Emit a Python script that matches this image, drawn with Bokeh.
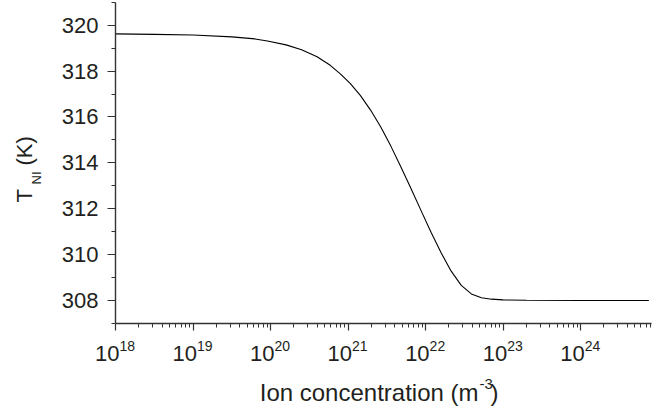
from bokeh.plotting import figure
from bokeh.models import (FixedTicker, LabelSet, ColumnDataSource,
                          CustomJSTickFormatter, Range1d)
from bokeh.core.properties import value
from bokeh.embed import file_html
from bokeh.resources import INLINE
import math

# ---- data ----
log_conc = [18.00, 18.50, 19.00, 19.50, 19.80, 19.96, 20.20, 20.40, 20.60, 20.77,
            20.90, 21.03, 21.16, 21.29, 21.42, 21.55, 21.68, 21.81, 21.94, 22.07,
            22.20, 22.33, 22.46, 22.59, 22.72, 22.85, 23.00, 23.30, 24.00, 24.88]
t_ni = [319.62, 319.60, 319.57, 319.49, 319.40, 319.31, 319.14, 318.93, 318.62, 318.25,
        317.88, 317.45, 316.93, 316.30, 315.57, 314.74, 313.83, 312.89, 311.93, 310.98,
        310.08, 309.28, 308.66, 308.29, 308.12, 308.06, 308.03, 308.01, 308.00, 308.00]
x_exponents = [18, 19, 20, 21, 22, 23, 24]
y_ticks = [308, 310, 312, 314, 316, 318, 320]
x_min, x_max = 1e18, 8.2e24
y_min, y_max = 307, 321

# ---- layout (pixels) ----
W, H = 657, 410
AX_L, AX_R, AX_T, AX_B = 115, 651, 1.7, 323

FONT = "Liberation Sans"
TXT = "#231f20"
AX = "#333333"

conc = [10.0 ** v for v in log_conc]

# the drawing frame covers the whole canvas; the axes are pinned at the data edges
decade_px = (AX_R - AX_L) / (math.log10(x_max) - math.log10(x_min))
x_lo = 10 ** (math.log10(x_min) - AX_L / decade_px)
x_hi = 10 ** (math.log10(x_max) + (W - AX_R) / decade_px)
unit_px = (AX_B - AX_T) / (y_max - y_min)
y_lo = y_min - (H - AX_B) / unit_px
y_hi = y_max + AX_T / unit_px

p = figure(width=W, height=H, x_axis_type="log",
           x_range=Range1d(x_lo, x_hi), y_range=Range1d(y_lo, y_hi),
           output_backend="svg", toolbar_location=None, min_border=0)
p.outline_line_color = None
p.xgrid.grid_line_color = None
p.ygrid.grid_line_color = None
p.background_fill_color = "white"
p.border_fill_color = "white"

p.line(conc, t_ni, line_color="black", line_width=1.1)

# x axis
major_x = [10.0 ** e for e in x_exponents]
minor_x = [m * 10.0 ** e for e in x_exponents for m in range(2, 10) if m * 10.0 ** e <= x_max]
p.xaxis.ticker = FixedTicker(ticks=major_x, minor_ticks=minor_x)
p.xaxis.formatter = CustomJSTickFormatter(code="return ''")
p.xaxis.fixed_location = y_min
p.xaxis.bounds = (x_min, x_max)
p.xaxis.major_tick_in = 0
p.xaxis.major_tick_out = 7
p.xaxis.minor_tick_in = 0
p.xaxis.minor_tick_out = 4

# y axis
p.yaxis.ticker = FixedTicker(ticks=y_ticks, minor_ticks=[t + 1 for t in y_ticks] + [y_min])
p.yaxis.fixed_location = x_min
p.yaxis.bounds = (y_min, y_max)
p.yaxis.major_tick_in = 0
p.yaxis.major_tick_out = 8
p.yaxis.minor_tick_in = 0
p.yaxis.minor_tick_out = 4
p.yaxis.major_label_text_font = FONT
p.yaxis.major_label_text_font_size = "22px"
p.yaxis.major_label_text_color = TXT
p.yaxis.major_label_standoff = 9

for ax in (p.xaxis, p.yaxis):
    ax.axis_line_color = AX
    ax.axis_line_width = 1.4
    ax.major_tick_line_color = AX
    ax.minor_tick_line_color = AX
    ax.major_tick_line_width = 1.2
    ax.minor_tick_line_width = 1.0


def labels(xs, ys, texts, xo, yo, align, size, angle=0.0):
    src = ColumnDataSource(dict(x=xs, y=ys, text=texts))
    p.add_layout(LabelSet(x="x", y="y", text="text", source=src, x_offset=xo, y_offset=yo,
                          angle=angle, text_align=align, text_baseline="alphabetic",
                          text_font=value(FONT), text_font_size=value(size),
                          text_color=TXT))


# x tick labels: 10 with a superscript exponent
n = len(major_x)
labels(major_x, [y_min] * n, ["10"] * n, 4, -37, "right", "22px")
labels(major_x, [y_min] * n, [str(e) for e in x_exponents], 4, -27, "left", "14px")

# x axis label
labels([x_min], [y_min], ["Ion concentration (m"], 363, -77, "right", "24px")
labels([x_min], [y_min], ["-3"], 364, -65, "left", "15px")
labels([x_min], [y_min], [")"], 375, -77, "left", "24px")

# y axis label: T_NI (K)
a = math.pi / 2
labels([x_min], [y_min], ["T"], -84, 121, "left", "22px", a)
labels([x_min], [y_min], ["NI"], -75, 139, "left", "13px", a)
labels([x_min], [y_min], ["(K)"], -84, 158, "left", "22px", a)

open("out.html", "w").write(file_html(p, INLINE))
